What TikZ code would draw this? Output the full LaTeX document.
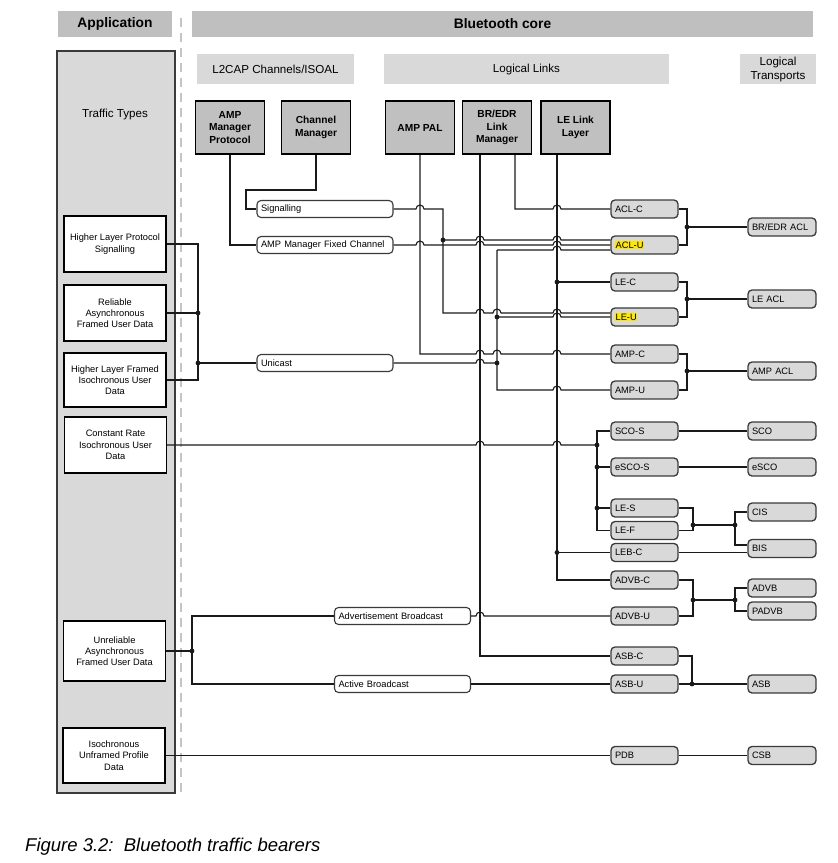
\documentclass[tikz,border=0pt]{standalone}
\usepackage{fontspec}
\setmainfont{Liberation Sans}
\definecolor{hdrgray}{HTML}{BFBFBF}
\definecolor{lgray}{HTML}{D9D9D9}
\definecolor{boxgray}{HTML}{C0C0C0}
\definecolor{edgegray}{HTML}{3A3A3A}
\definecolor{wirecol}{HTML}{1A1A1A}
\definecolor{dashgray}{HTML}{C4C4C4}
\definecolor{hlyellow}{HTML}{FFE800}
\newcommand\hp[2]{-- (#1-4,#2) arc[start angle=180,end angle=0,radius=4pt]}
\newcommand\hlt[1]{{\setlength{\fboxsep}{0.6pt}\colorbox{hlyellow}{#1}}}
\newcommand\fsm{\fontsize{9.3}{11.3}\selectfont}
\newcommand\fhd{\fontsize{13.8}{16}\selectfont\bfseries}
\newcommand\ftp{\fontsize{10.2}{12.7}\selectfont\bfseries}
\newcommand\fsb{\fontsize{11.6}{14}\selectfont}
\newcommand\fcp{\fontsize{18.5}{22}\selectfont\itshape}
\begin{document}
\begin{tikzpicture}[x=1pt,y=-1pt,
  hdr/.style={fill=hdrgray,draw=none,font=\fhd,minimum height=26pt,inner sep=0pt},
  subhdr/.style={fill=lgray,draw=none,font=\fsb,minimum height=30pt,inner sep=0pt,align=center},
  topbox/.style={fill=boxgray,draw=black,line width=1.8pt,font=\ftp,align=center,minimum width=69pt,minimum height=53pt,inner sep=0pt},
  appbox/.style={fill=white,draw=black,line width=1.3pt,font=\fsm,align=center,minimum width=102pt,inner sep=0pt},
  chan/.style={fill=white,draw=edgegray,line width=1.1pt,rounded corners=4pt,font=\fsm,text width=128pt,align=left,inner xsep=4pt,inner ysep=0pt,minimum height=17pt},
  llink/.style={fill=lgray,draw=edgegray,line width=1.3pt,rounded corners=4pt,font=\fsm,text width=59pt,align=left,inner xsep=4pt,inner ysep=0pt,minimum height=18pt},
  ltrans/.style={llink,text width=60pt},
  wire/.style={draw=wirecol,line width=1.1pt},
  jdot/.style={fill=wirecol}
]
\useasboundingbox (0,0) rectangle (838,863);

% headers
\node[hdr,minimum width=114pt] (apph) at (115,24) {Application};
\node[hdr,minimum width=621pt] (coreh) at (502.5,24) {Bluetooth core};
\draw[dashgray,line width=1.5pt,dash pattern=on 9pt off 6pt] (181,18) -- (181,793);

% application panel
\node[fill=lgray,draw=edgegray,line width=1.2pt,minimum width=118pt,minimum height=742pt,inner sep=0pt] (panel) at (116,422) {};
\node[font=\fsb] (ttl) at (115,114) {Traffic Types};

\node[appbox,minimum height=56pt] (hlps) at (115,244) {Higher Layer Protocol\\Signalling};
\node[appbox,minimum height=56pt] (rafud) at (115,313) {Reliable\\Asynchronous\\Framed User Data};
\node[appbox,minimum height=54pt] (hlfiud) at (115,380) {Higher Layer Framed\\Isochronous User\\Data};
\node[appbox,minimum height=56pt] (criud) at (115.5,445) {Constant Rate\\Isochronous User\\Data};
\node[appbox,minimum height=60pt] (uafud) at (114.5,651) {Unreliable\\Asynchronous\\Framed User Data};
\node[appbox,minimum height=55pt] (iupd) at (114,755.5) {Isochronous\\Unframed Profile\\Data};

% sub headers
\node[subhdr,minimum width=157pt] (l2h) at (275.5,69) {L2CAP Channels/ISOAL};
\node[subhdr,minimum width=285pt] (llh) at (526.5,69) {Logical Links};
\node[subhdr,minimum width=76pt] (lth) at (778,69) {Logical\\Transports};

% top boxes
\node[topbox] (amp) at (230,127.5) {AMP\\Manager\\Protocol};
\node[topbox] (cm) at (316,127.5) {Channel\\Manager};
\node[topbox] (pal) at (420,127.5) {AMP PAL};
\node[topbox] (lm) at (497,127.5) {BR/EDR\\Link\\Manager};
\node[topbox] (ll) at (575.5,127.5) {LE Link\\Layer};

% L2CAP channels
\node[chan] (sig) at (325,209) {Signalling};
\node[chan] (amfc) at (325,245) {AMP Manager Fixed Channel};
\node[chan] (uni) at (325,363) {Unicast};
\node[chan] (advb) at (402.5,616) {Advertisement Broadcast};
\node[chan] (actb) at (402.5,684) {Active Broadcast};

% logical links
\node[llink] (aclc) at (644.5,209) {ACL-C};
\node[llink] (aclu) at (644.5,245) {\hlt{ACL-U}};
\node[llink] (lec) at (644.5,282) {LE-C};
\node[llink] (leu) at (644.5,317) {\hlt{LE-U}};
\node[llink] (ampc) at (644.5,354) {AMP-C};
\node[llink] (ampu) at (644.5,390) {AMP-U};
\node[llink] (scos) at (644.5,431) {SCO-S};
\node[llink] (escos) at (644.5,467) {eSCO-S};
\node[llink] (les) at (644.5,508) {LE-S};
\node[llink] (lef) at (644.5,530.5) {LE-F};
\node[llink] (lebc) at (644.5,552.5) {LEB-C};
\node[llink] (advbc) at (644.5,580) {ADVB-C};
\node[llink] (advbu) at (644.5,616) {ADVB-U};
\node[llink] (asbc) at (644.5,656) {ASB-C};
\node[llink] (asbu) at (644.5,684) {ASB-U};
\node[llink] (pdb) at (644.5,755.5) {PDB};

% logical transports
\node[ltrans] (bredr) at (782,227) {BR/EDR ACL};
\node[ltrans] (leacl) at (782,299) {LE ACL};
\node[ltrans] (ampacl) at (782,371) {AMP ACL};
\node[ltrans] (sco) at (782,431) {SCO};
\node[ltrans] (esco) at (782,467) {eSCO};
\node[ltrans] (cis) at (782,512) {CIS};
\node[ltrans] (bis) at (782,548.5) {BIS};
\node[ltrans] (advbt) at (782,588) {ADVB};
\node[ltrans] (padvb) at (782,611) {PADVB};
\node[ltrans] (asb) at (782,684) {ASB};
\node[ltrans] (csb) at (782,755.5) {CSB};

% left bus
\draw[wire] (hlps.east) -- (198,244) |- (hlfiud.east);
\draw[wire] (rafud.east) -- (198,313);
\draw[wire] (198,363) -- (uni.west);
\fill[jdot] (198,313) circle[radius=2.4pt] (198,363) circle[radius=2.4pt];

% top box connectors
\draw[wire] (amp.south) |- (amfc.west);
\draw[wire] (cm.south) -- (316,190) -| (246,209) -- (sig.west);

% signalling
\draw[wire] (sig.east) \hp{420}{209} -- (443,209) -- (443,313) \hp{480}{313} \hp{497}{313} \hp{557}{313} -- ([yshift=4pt]leu.west);
\draw[wire] (443,240) \hp{480}{240} \hp{557}{240} -- ([yshift=5pt]aclu.west);
\fill[jdot] (443,240) circle[radius=2.4pt];

% AMP manager fixed channel
\draw[wire] (amfc.east) \hp{420}{245} \hp{480}{245} \hp{557}{245} -- (aclu.west);

% unicast
\draw[wire] (uni.east) \hp{480}{363} -- (497,363);
\draw[wire] (497,250) \hp{557}{250} -- ([yshift=-5pt]aclu.west);
\draw[wire] (497,250) -- (497,390) \hp{557}{390} -- (ampu.west);
\draw[wire] (497,317) \hp{557}{317} -- (leu.west);
\fill[jdot] (497,363) circle[radius=2.4pt] (497,317) circle[radius=2.4pt];

% AMP PAL
\draw[wire] (pal.south) -- (420,354) \hp{480}{354} \hp{497}{354} \hp{557}{354} -- (ampc.west);

% BR/EDR link manager
\draw[wire] ([xshift=-17pt]lm.south) |- (asbc.west);
\draw[wire] ([xshift=18pt]lm.south) -- (515,209) \hp{557}{209} -- (aclc.west);

% LE link layer
\draw[wire] ([xshift=-18.5pt]ll.south) |- (advbc.west);
\draw[wire] (557,282) -- (lec.west);
\draw[wire] (557,552.5) -- (lebc.west);
\fill[jdot] (557,282) circle[radius=2.4pt] (557,552.5) circle[radius=2.4pt];

% constant rate
\draw[wire] (criud.east) \hp{480}{445} \hp{557}{445} -- (597,445);
\draw[wire] (scos.west) -| (597,530.5) -- (lef.west);
\draw[wire] (597,467) -- (escos.west);
\draw[wire] (597,508) -- (les.west);
\fill[jdot] (597,445) circle[radius=2.4pt] (597,467) circle[radius=2.4pt] (597,508) circle[radius=2.4pt];

% unreliable async
\draw[wire] (uafud.east) -- (192,651);
\draw[wire] (advb.west) -| (192,684) -- (actb.west);
\fill[jdot] (192,651) circle[radius=2.4pt];
\draw[wire] (advb.east) \hp{480}{616} -- (advbu.west);
\draw[wire] (actb.east) -- (asbu.west);
\draw[wire] (iupd.east) -- (pdb.west);

% right merges
\draw[wire] (aclc.east) -| (687,245) -- (aclu.east);
\draw[wire] (687,227) -- (bredr.west);
\draw[wire] (lec.east) -| (687,317) -- (leu.east);
\draw[wire] (687,299) -- (leacl.west);
\draw[wire] (ampc.east) -| (687,390) -- (ampu.east);
\draw[wire] (687,371) -- (ampacl.west);
\fill[jdot] (687,227) circle[radius=2.4pt] (687,299) circle[radius=2.4pt] (687,371) circle[radius=2.4pt];
\draw[wire] (scos.east) -- (sco.west);
\draw[wire] (escos.east) -- (esco.west);
\draw[wire] (les.east) -| (693,530.5) -- (lef.east);
\draw[wire] (693,525) -- (735,525);
\draw[wire] (cis.west) -| (735,545) -- ([yshift=3.5pt]bis.west);
\draw[wire] (lebc.east) -- (lebc.east -| bis.west);
\fill[jdot] (693,525) circle[radius=2.4pt] (735,525) circle[radius=2.4pt];
\draw[wire] (advbc.east) -| (693,616) -- (advbu.east);
\draw[wire] (693,600) -- (735,600);
\draw[wire] (advbt.west) -| (735,611) -- (padvb.west);
\fill[jdot] (693,600) circle[radius=2.4pt] (735,600) circle[radius=2.4pt];
\draw[wire] (asbc.east) -| (692,684);
\draw[wire] (asbu.east) -- (asb.west);
\fill[jdot] (692,684) circle[radius=2.4pt];
\draw[wire] (pdb.east) -- (csb.west);

% caption
\node[anchor=base west,font=\fcp,inner sep=0pt] (cap) at (25,851) {Figure 3.2:\ \ Bluetooth traffic bearers};
\end{tikzpicture}
\end{document}
